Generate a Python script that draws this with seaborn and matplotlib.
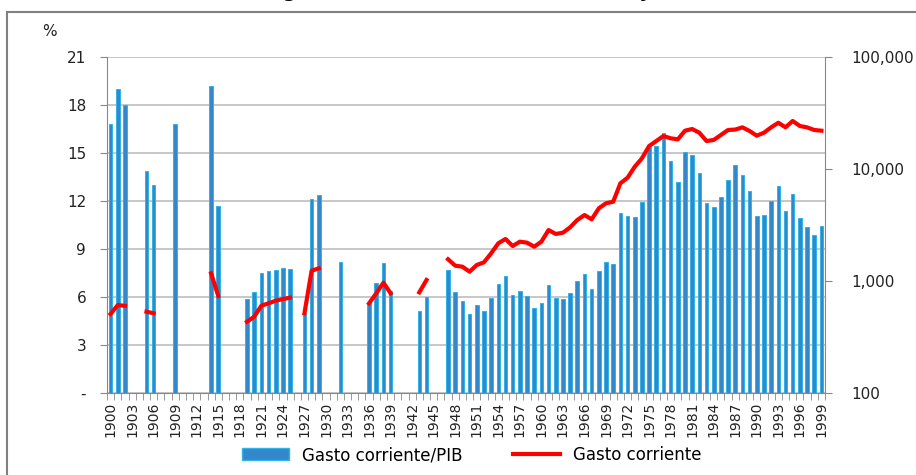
import matplotlib
matplotlib.use("Agg")
import matplotlib.pyplot as plt
from matplotlib.patches import Rectangle, Patch
from matplotlib.lines import Line2D
from matplotlib.ticker import FuncFormatter, NullLocator
import numpy as np
import pandas as pd
import seaborn as sns

# Gasto corriente / PIB (%), left axis
bar_years = [1900, 1901, 1902, 1905, 1906, 1909, 1914, 1915, 1919, 1920,
             1921, 1922, 1923, 1924, 1925, 1927, 1928, 1929, 1932, 1936,
             1937, 1938, 1939, 1943, 1944, 1947, 1948, 1949, 1950, 1951,
             1952, 1953, 1954, 1955, 1956, 1957, 1958, 1959, 1960, 1961,
             1962, 1963, 1964, 1965, 1966, 1967, 1968, 1969, 1970, 1971,
             1972, 1973, 1974, 1975, 1976, 1977, 1978, 1979, 1980, 1981,
             1982, 1983, 1984, 1985, 1986, 1987, 1988, 1989, 1990, 1991,
             1992, 1993, 1994, 1995, 1996, 1997, 1998, 1999]
bar_values = [16.8, 19.0, 18.0, 13.9, 13.0, 16.8, 19.2, 11.7, 5.9, 6.3,
              7.5, 7.6, 7.7, 7.8, 7.75, 5.0, 12.1, 12.35, 8.2, 5.6,
              6.9, 8.1, 6.4, 5.15, 6.0, 7.7, 6.3, 5.75, 4.95, 5.5,
              5.15, 5.95, 6.8, 7.3, 6.1, 6.35, 6.05, 5.3, 5.65, 6.75,
              5.95, 5.9, 6.25, 7.0, 7.45, 6.5, 7.65, 8.2, 8.05, 11.25,
              11.05, 11.0, 11.95, 15.4, 15.45, 16.25, 14.5, 13.2, 15.05, 14.85,
              13.75, 11.85, 11.6, 12.25, 13.3, 14.25, 13.6, 12.65, 11.05, 11.15,
              12.0, 12.95, 11.35, 12.45, 10.95, 10.4, 9.85, 10.45]

# Gasto corriente (right axis, log scale)
line_years = [1900, 1901, 1902, 1905, 1906, 1914, 1915, 1919, 1920, 1921,
              1922, 1923, 1924, 1925, 1927, 1928, 1929, 1936, 1937, 1938,
              1939, 1943, 1944, 1947, 1948, 1949, 1950, 1951, 1952, 1953,
              1954, 1955, 1956, 1957, 1958, 1959, 1960, 1961, 1962, 1963,
              1964, 1965, 1966, 1967, 1968, 1969, 1970, 1971, 1972, 1973,
              1974, 1975, 1976, 1977, 1978, 1979, 1980, 1981, 1982, 1983,
              1984, 1985, 1986, 1987, 1988, 1989, 1990, 1991, 1992, 1993,
              1994, 1995, 1996, 1997, 1998, 1999]
line_values = [508, 610, 600, 532, 515, 1170, 735, 433, 480, 602,
               632, 667, 690, 710, 515, 1236, 1297, 632, 776, 966,
               776, 792, 1021, 1563, 1370, 1342, 1211, 1389, 1469, 1766,
               2172, 2372, 2053, 2244, 2199, 2024, 2244, 2851, 2630, 2700,
               3015, 3505, 3882, 3554, 4460, 4943, 5105, 7450, 8360, 10470,
               12450, 16030, 17780, 19710, 18800, 18400, 21980, 22750, 21090, 17780,
               18160, 20130, 22300, 22500, 23550, 21830, 19830, 21090, 23550, 25880,
               23550, 26850, 24200, 23550, 22300, 21980]

all_years = list(range(1900, 2000))
left_ticks = [0, 3, 6, 9, 12, 15, 18, 21]
left_labels = ["-", "3", "6", "9", "12", "15", "18", "21"]

plt.rcParams['font.family'] = ['DejaVu Sans']

fig = plt.figure(figsize=(9.16, 4.75), dpi=100)
ax = fig.add_axes([107 / 916, 1 - 393 / 475, (825 - 107) / 916, (393 - 57) / 475])

bars = pd.DataFrame({"year": [str(y) for y in bar_years], "value": bar_values})
sns.barplot(data=bars, x="year", y="value", order=[str(y) for y in all_years],
            color="#3388cc", saturation=1, width=0.5, errorbar=None,
            edgecolor="#30b4ea", linewidth=0.7, ax=ax, zorder=2)

ax.set_xlim(-0.5, 99.5)
ax.set_ylim(0, 21)
ax.set_yticks(left_ticks)
ax.set_yticklabels(left_labels, fontsize=11, color="#222222")
ax.grid(axis="y", color="#bdbdbd", linewidth=1.2, zorder=0)
ax.set_axisbelow(True)
ax.set_xticks(range(0, 100, 3))
ax.set_xticklabels([str(y) for y in all_years[::3]], rotation=90, fontsize=10, color="#222222")
ax.set_xticks(np.arange(-0.5, 100, 1), minor=True)
ax.tick_params(axis="x", which="major", length=0, pad=6)
ax.tick_params(axis="x", which="minor", length=5, color="#888888")
ax.tick_params(axis="y", length=5, color="#888888", pad=10)
ax.set_xlabel("")
ax.set_ylabel("")
for s in ["top", "right"]:
    ax.spines[s].set_visible(False)
for s in ["left", "bottom"]:
    ax.spines[s].set_color("#888888")

ax2 = ax.twinx()
line = pd.DataFrame({"x": [y - 1900 for y in line_years], "value": line_values})
line["seg"] = (line["x"].diff().fillna(1) > 1).cumsum()
sns.lineplot(data=line, x="x", y="value", units="seg", estimator=None,
             color="#ff0000", linewidth=3, legend=False, ax=ax2, zorder=3)
ax2.set_yscale("log")
ax2.set_ylim(100, 100000)
ax2.yaxis.set_minor_locator(NullLocator())
ax2.yaxis.set_major_formatter(FuncFormatter(lambda v, p: f"{v:,.0f}"))
ax2.tick_params(axis="y", length=5, color="#888888", labelsize=11, labelcolor="#222222", pad=14)
ax2.set_ylabel("")
ax2.set_xlabel("")
ax2.set_xlim(-0.5, 99.5)
for s in ["top", "left", "bottom"]:
    ax2.spines[s].set_visible(False)
ax2.spines["right"].set_color("#888888")

fig.text(49 / 916, 1 - 32 / 475, "%", fontsize=11, ha="center", va="center", color="#222222")

# title sits at the top edge, only its descenders show
fig.text(682 / 916, 1 + 3 / 475, "Gasto corriente del gobierno central total (Precios fijos)",
         fontsize=14, fontweight="bold", ha="right", va="baseline")

fig.patches.append(Rectangle((7 / 916, -0.1), 1.0, 1.1 - 12 / 475, transform=fig.transFigure,
                             fill=False, edgecolor="#808080", linewidth=1.5))

handles = [Patch(facecolor="#3388cc", edgecolor="#30b4ea", label="Gasto corriente/PIB"),
           Line2D([], [], color="#ff0000", linewidth=3, label="Gasto corriente")]
fig.legend(handles=handles, loc="center", bbox_to_anchor=(472 / 916, 1 - 455 / 475), ncol=2,
           frameon=False, fontsize=12, handlelength=2.8, handleheight=0.7, columnspacing=3.0)

fig.savefig("out.png", dpi=100)
